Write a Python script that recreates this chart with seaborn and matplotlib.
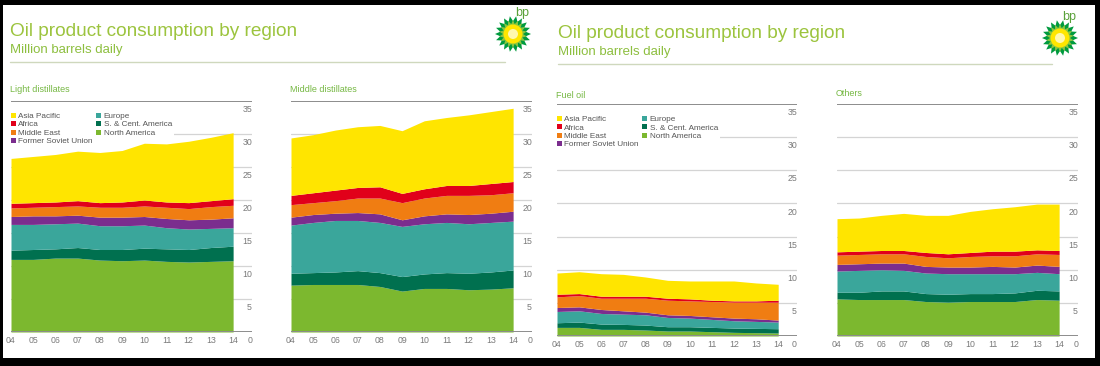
import numpy as np
import pandas as pd
import matplotlib
matplotlib.use("Agg")
import matplotlib.pyplot as plt
import matplotlib.transforms as mtransforms
from matplotlib.patches import Polygon, Circle, Rectangle, Patch
import seaborn as sns

# ---- data (million barrels daily) ----
years = list(range(2004, 2015))
year_labels = ["04", "05", "06", "07", "08", "09", "10", "11", "12", "13", "14"]
regions = ["North America", "S. & Cent. America", "Europe", "Former Soviet Union",
           "Middle East", "Africa", "Asia Pacific"]

light_na = [11.0, 11.0, 11.2, 11.2, 10.9, 10.8, 10.9, 10.7, 10.6, 10.7, 10.8]
light_sca = [1.4, 1.5, 1.4, 1.6, 1.6, 1.7, 1.8, 1.9, 1.9, 2.1, 2.2]
light_eu = [3.9, 3.8, 3.8, 3.7, 3.6, 3.6, 3.5, 3.2, 3.1, 2.9, 2.8]
light_fsu = [1.2, 1.3, 1.2, 1.2, 1.3, 1.3, 1.3, 1.4, 1.4, 1.4, 1.5]
light_me = [1.3, 1.3, 1.4, 1.4, 1.5, 1.5, 1.6, 1.7, 1.7, 1.9, 1.9]
light_af = [0.7, 0.7, 0.7, 0.8, 0.7, 0.8, 0.9, 0.8, 0.9, 0.9, 1.0]
light_ap = [6.8, 7.0, 7.2, 7.5, 7.6, 7.8, 8.6, 8.8, 9.3, 9.6, 10.0]

middle_na = [7.1, 7.2, 7.2, 7.2, 6.9, 6.2, 6.6, 6.6, 6.4, 6.5, 6.7]
middle_sca = [1.8, 1.8, 1.9, 2.1, 2.1, 2.2, 2.2, 2.4, 2.5, 2.6, 2.7]
middle_eu = [7.3, 7.6, 7.8, 7.6, 7.6, 7.6, 7.6, 7.6, 7.5, 7.5, 7.4]
middle_fsu = [1.2, 1.2, 1.1, 1.2, 1.3, 1.0, 1.2, 1.3, 1.4, 1.4, 1.5]
middle_me = [1.9, 1.8, 1.9, 2.2, 2.4, 2.6, 2.7, 2.8, 2.9, 2.8, 2.8]
middle_af = [1.4, 1.5, 1.6, 1.6, 1.7, 1.4, 1.4, 1.5, 1.5, 1.7, 1.7]
middle_ap = [8.7, 8.8, 9.1, 9.2, 9.3, 9.5, 10.3, 10.3, 10.7, 10.9, 11.1]

fuel_na = [1.3, 1.3, 1.0, 1.0, 0.9, 0.75, 0.75, 0.65, 0.55, 0.5, 0.45]
fuel_sca = [0.7, 0.8, 0.8, 0.75, 0.75, 0.65, 0.65, 0.65, 0.65, 0.65, 0.65]
fuel_eu = [1.7, 1.7, 1.6, 1.55, 1.55, 1.4, 1.3, 1.2, 1.1, 1.05, 1.0]
fuel_fsu = [0.6, 0.6, 0.6, 0.5, 0.4, 0.4, 0.4, 0.4, 0.4, 0.4, 0.3]
fuel_me = [1.6, 1.7, 1.7, 1.9, 2.1, 2.2, 2.2, 2.3, 2.4, 2.5, 2.7]
fuel_af = [0.4, 0.3, 0.3, 0.3, 0.3, 0.3, 0.3, 0.2, 0.2, 0.2, 0.3]
fuel_ap = [3.2, 3.3, 3.4, 3.3, 2.9, 2.7, 2.7, 2.9, 3.0, 2.7, 2.4]

other_na = [5.6, 5.5, 5.5, 5.5, 5.2, 5.1, 5.2, 5.2, 5.2, 5.5, 5.4]
other_sca = [1.0, 1.1, 1.3, 1.3, 1.2, 1.2, 1.2, 1.2, 1.3, 1.4, 1.4]
other_eu = [3.2, 3.3, 3.2, 3.1, 3.1, 3.1, 3.0, 3.0, 2.9, 2.7, 2.6]
other_fsu = [1.0, 1.0, 1.0, 1.1, 1.0, 1.0, 1.0, 1.1, 1.0, 1.1, 1.1]
other_me = [1.4, 1.4, 1.4, 1.4, 1.5, 1.4, 1.6, 1.6, 1.7, 1.7, 1.8]
other_af = [0.5, 0.5, 0.5, 0.5, 0.6, 0.6, 0.6, 0.7, 0.7, 0.6, 0.6]
other_ap = [5.0, 5.0, 5.3, 5.6, 5.6, 5.8, 6.2, 6.4, 6.7, 6.9, 7.0]

y_ticks = [0, 5, 10, 15, 20, 25, 30, 35]

panels = {
    "Light distillates": [light_na, light_sca, light_eu, light_fsu, light_me, light_af, light_ap],
    "Middle distillates": [middle_na, middle_sca, middle_eu, middle_fsu, middle_me, middle_af, middle_ap],
    "Fuel oil": [fuel_na, fuel_sca, fuel_eu, fuel_fsu, fuel_me, fuel_af, fuel_ap],
    "Others": [other_na, other_sca, other_eu, other_fsu, other_me, other_af, other_ap],
}

# ---- style ----
sns.set_style("white")
plt.rcParams["font.family"] = ["Liberation Sans", "DejaVu Sans"]

colors = sns.color_palette(["#7cb82f", "#00704f", "#3aa69b", "#7b2d8e",
                            "#f07d12", "#e1001a", "#ffe500"])
title_green = "#9cc43e"
sub_green = "#8dbf3f"
label_green = "#76b843"
tick_grey = "#7a7a7a"

W, H = 1100, 366
fig = plt.figure(figsize=(W / 100, H / 100), dpi=100)
fig.patch.set_facecolor("black")

# background / decoration axes in pixel coords
bg = fig.add_axes([0, 0, 1, 1], zorder=0)
bg.set_xlim(0, W)
bg.set_ylim(H, 0)
bg.axis("off")
bg.add_patch(Rectangle((3, 5), 1092, 353, facecolor="white", edgecolor="none"))


def px_axes(x0, y_top, w, h):
    return fig.add_axes([x0 / W, 1 - (y_top + h) / H, w / W, h / H], zorder=1)


def star(cx, cy, r_out, r_in, n, phase=0.0):
    ang = np.linspace(0, 2 * np.pi, 2 * n, endpoint=False) + phase
    rad = np.where(np.arange(2 * n) % 2 == 0, r_out, r_in)
    return np.column_stack([cx + rad * np.cos(ang), cy + rad * np.sin(ang)])


def slide_header(x0, y0, x_line_end, logo_x, logo_y):
    bg.text(x0, y0 + 32, "Oil product consumption by region", fontsize=13.7,
            color=title_green, va="center", ha="left")
    bg.text(x0, y0 + 50, "Million barrels daily", fontsize=9.5,
            color=sub_green, va="center", ha="left")
    bg.plot([x0, x_line_end], [y0 + 62, y0 + 62], color="#cfd8bd", lw=1.0)
    # bp helios logo
    bg.add_patch(Polygon(star(logo_x, logo_y, 18, 13, 18), facecolor="#009a3e", edgecolor="none"))
    bg.add_patch(Polygon(star(logo_x, logo_y, 14, 10, 18, np.pi / 18), facecolor="#8cc63f", edgecolor="none"))
    bg.add_patch(Circle((logo_x, logo_y), 9.5, facecolor="#ffe600", edgecolor="none"))
    bg.add_patch(Circle((logo_x, logo_y), 5, facecolor="#fff8b0", edgecolor="none"))
    bg.text(logo_x + 9, logo_y - 21, "bp", fontsize=9, color="#5aa13a", ha="center", va="center")


slide_header(10, 0, 505, 513, 34)
slide_header(558, 2, 1052, 1060, 38)

# panel layout: (left px, top px, width, height, title y, legend?)
layout = {
    "Light distillates": (11, 101, 241, 231, 90, True),
    "Middle distillates": (291, 101, 241, 231, 90, False),
    "Fuel oil": (557, 104, 240, 232, 96, True),
    "Others": (837, 104, 241, 232, 93, False),
}

legend_order = [6, 5, 4, 3, 2, 1, 0]

for name, layers in panels.items():
    x0, top, w, h, ty, show_leg = layout[name]
    ax = px_axes(x0, top, w, h)
    ax.set_facecolor("none")
    ax.stackplot(years, *layers, colors=colors, labels=regions,
                 linewidth=0, zorder=2)
    ax.set_xlim(2004, 2014.85)
    ax.set_ylim(0, 35)
    for v in y_ticks:
        if v in (0, 35):
            ax.axhline(v, color="#8c8c8c", lw=1.4, zorder=3)
        else:
            ax.axhline(v, color="#d4d4d4", lw=0.9, zorder=1)
    off = mtransforms.ScaledTranslation(0, -3 / 72, fig.dpi_scale_trans)
    for v in y_ticks:
        ax.text(1.0, v, str(v), transform=ax.get_yaxis_transform() + off,
                ha="right", va="top", fontsize=6.3, color=tick_grey)
    ax.set_xticks(years)
    ax.set_xticklabels(year_labels)
    ax.tick_params(axis="x", length=0, pad=3, labelsize=6.3, labelcolor=tick_grey)
    ax.set_yticks([])
    for sp in ax.spines.values():
        sp.set_visible(False)
    bg.text(x0 - 1, ty, name, fontsize=6.5, color=label_green, ha="left", va="center")
    if show_leg:
        handles = [Patch(facecolor=colors[i], edgecolor="none") for i in legend_order]
        labels = [regions[i] for i in legend_order]
        leg = ax.legend(handles, labels, ncol=2, loc="upper left",
                        bbox_to_anchor=(-0.01, 0.96), fontsize=5.9,
                        frameon=True, facecolor="white", edgecolor="none",
                        framealpha=1, fancybox=False, borderpad=0.3,
                        labelspacing=0.13, handlelength=0.55, handleheight=0.55,
                        handletextpad=0.35, columnspacing=0.4, borderaxespad=0)
        for t in leg.get_texts():
            t.set_color("#555555")
        # keep the white box above the grid but under the areas
        leg.set_zorder(1.5)

fig.savefig("out.png", dpi=100, facecolor=fig.get_facecolor())
